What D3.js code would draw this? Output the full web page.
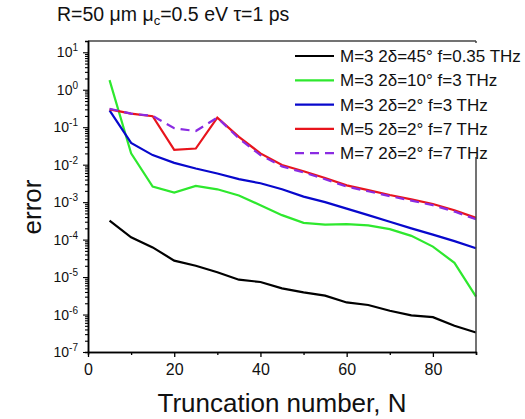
<!DOCTYPE html>
<html>
<head>
<meta charset="utf-8">
<script src="https://cdn.jsdelivr.net/npm/d3@7"></script>
<style>
  body { margin: 0; background: #fff; }
  text { font-family: Arial, "Liberation Sans", sans-serif; fill: #111; }
</style>
</head>
<body>
<svg id="chart" width="525" height="419"></svg>
<script>
// truncation numbers
let truncN = [5, 10, 15, 20, 25, 30, 35, 40, 45, 50, 55, 60, 65, 70, 75, 80, 85, 90];

// error values
let errBlack  = [3.2e-4, 1.15e-4, 6.2e-5, 2.75e-5, 2.0e-5, 1.35e-5, 8.5e-6, 7.4e-6, 5.0e-6, 3.9e-6, 3.2e-6, 2.1e-6, 1.8e-6, 1.26e-6, 9.5e-7, 8.5e-7, 5.0e-7, 3.3e-7];
let errGreen  = [1.8, 0.02, 2.6e-3, 1.8e-3, 2.7e-3, 2.2e-3, 1.5e-3, 8.3e-4, 4.5e-4, 2.8e-4, 2.5e-4, 2.6e-4, 2.4e-4, 1.9e-4, 1.26e-4, 6.5e-5, 2.4e-5, 3.0e-6];
let errBlue   = [0.28, 0.038, 0.018, 0.0112, 7.9e-3, 5.8e-3, 4.1e-3, 3.2e-3, 2.2e-3, 1.4e-3, 1.0e-3, 6.7e-4, 4.5e-4, 3.0e-4, 2.0e-4, 1.36e-4, 9.1e-5, 5.9e-5];
let errRed    = [0.30, 0.23, 0.196, 0.025, 0.027, 0.18, 0.055, 0.02, 9.8e-3, 6.7e-3, 4.4e-3, 2.8e-3, 2.1e-3, 1.55e-3, 1.18e-3, 8.9e-4, 6.1e-4, 3.8e-4];
let errPurple = [0.31, 0.23, 0.20, 0.094, 0.079, 0.18, 0.05, 0.018, 9.0e-3, 6.2e-3, 4.1e-3, 2.6e-3, 1.95e-3, 1.45e-3, 1.1e-3, 8.3e-4, 5.6e-4, 3.5e-4];

let seriesNames = [
  "M=3 2δ=45° f=0.35 THz",
  "M=3 2δ=10° f=3 THz",
  "M=3 2δ=2° f=3 THz",
  "M=5 2δ=2° f=7 THz",
  "M=7 2δ=2° f=7 THz"
];

let xTicks = [0, 20, 40, 60, 80];
let xMinor = [10, 30, 50, 70, 90];
let yExps = [1, 0, -1, -2, -3, -4, -5, -6, -7];

let seriesData = [errBlack, errGreen, errBlue, errRed, errPurple];
let colors = ["#000000", "#2ee82e", "#0808cc", "#e8141c", "#8a2be2"];
let dashes = [null, null, null, null, "9,6"];

let svg = d3.select("#chart");
let plotL = 88, plotR = 476, plotT = 41, plotB = 352;

let x = d3.scaleLinear().domain([0, 90]).range([plotL, plotR]);
let y = d3.scaleLog().domain([1e-7, 20]).range([plotB, plotT]);

// title
let title = svg.append("text")
  .attr("x", 57).attr("y", 21)
  .style("font-size", "19.5px");
title.append("tspan").text("R=50 μm μ");
title.append("tspan").attr("dy", 4).style("font-size", "13px").text("c");
title.append("tspan").attr("dy", -4).text("=0.5 eV τ=1 ps");

// data lines
let line = d3.line()
  .x((d, i) => x(truncN[i]))
  .y(d => y(d));

seriesData.forEach((s, k) => {
  svg.append("path")
    .datum(s)
    .attr("fill", "none")
    .attr("stroke", colors[k])
    .attr("stroke-width", 2.2)
    .attr("stroke-dasharray", dashes[k])
    .attr("d", line);
});

// frame top + right
svg.append("line").attr("x1", plotL).attr("x2", plotR).attr("y1", plotT).attr("y2", plotT)
  .attr("stroke", "#444").attr("stroke-width", 1.5);
svg.append("line").attr("x1", plotR).attr("x2", plotR).attr("y1", plotT).attr("y2", plotB)
  .attr("stroke", "#444").attr("stroke-width", 1.5);

// x axis
let gx = svg.append("g").attr("transform", "translate(0," + plotB + ")");
gx.call(d3.axisBottom(x).tickValues(xTicks).tickSize(5).tickSizeOuter(0));
gx.append("g").call(d3.axisBottom(x).tickValues(xMinor).tickSize(3).tickFormat(""));
gx.selectAll("path.domain").attr("stroke", "#000").attr("stroke-width", 1.5);
gx.selectAll("line").attr("stroke", "#000").attr("stroke-width", 1.3);
gx.selectAll("text").attr("dy", "0.95em").style("font-size", "16px")
  .style("font-family", "Arial, 'Liberation Sans', sans-serif").attr("fill", "#111");

// y axis
let yMajor = yExps.map(e => Math.pow(10, e));
let yMinor = [];
yExps.forEach(e => {
  for (let m = 2; m <= 9; m++) {
    let v = m * Math.pow(10, e);
    if (v >= 1e-7 && v < 20) yMinor.push(v);
  }
});

let gy = svg.append("g").attr("transform", "translate(" + plotL + ",0)");
gy.call(d3.axisLeft(y).tickValues(yMajor).tickSize(5).tickSizeOuter(0).tickFormat(""));
gy.append("g").call(d3.axisLeft(y).tickValues(yMinor).tickSize(3).tickFormat(""));
gy.selectAll("path.domain").attr("stroke", "#000").attr("stroke-width", 1.5);
gy.selectAll("line").attr("stroke", "#000").attr("stroke-width", 1.1);

yExps.forEach(e => {
  let t = svg.append("text")
    .attr("x", 78)
    .attr("y", y(Math.pow(10, e)) + 5)
    .attr("text-anchor", "end")
    .style("font-size", "14px");
  t.append("tspan").text("10");
  t.append("tspan").attr("dy", -6).style("font-size", "10px").text(e);
});

// axis titles
svg.append("text")
  .attr("transform", "translate(41,207) rotate(-90)")
  .attr("text-anchor", "middle")
  .style("font-size", "26px")
  .text("error");

svg.append("text")
  .attr("x", 282).attr("y", 412)
  .attr("text-anchor", "middle")
  .style("font-size", "26px")
  .text("Truncation number, N");

// legend
let legend = svg.append("g");
legend.append("rect")
  .attr("x", 288).attr("y", 43).attr("width", 237).attr("height", 114)
  .attr("fill", "#fff");

seriesNames.forEach((name, k) => {
  let cy = 56 + k * 24.3;
  legend.append("line")
    .attr("x1", 295).attr("x2", 334).attr("y1", cy).attr("y2", cy)
    .attr("stroke", colors[k]).attr("stroke-width", 2.2)
    .attr("stroke-dasharray", dashes[k]);
  legend.append("text")
    .attr("x", 340).attr("y", cy + 6)
    .style("font-size", "17px")
    .text(name);
});
</script>
</body>
</html>
